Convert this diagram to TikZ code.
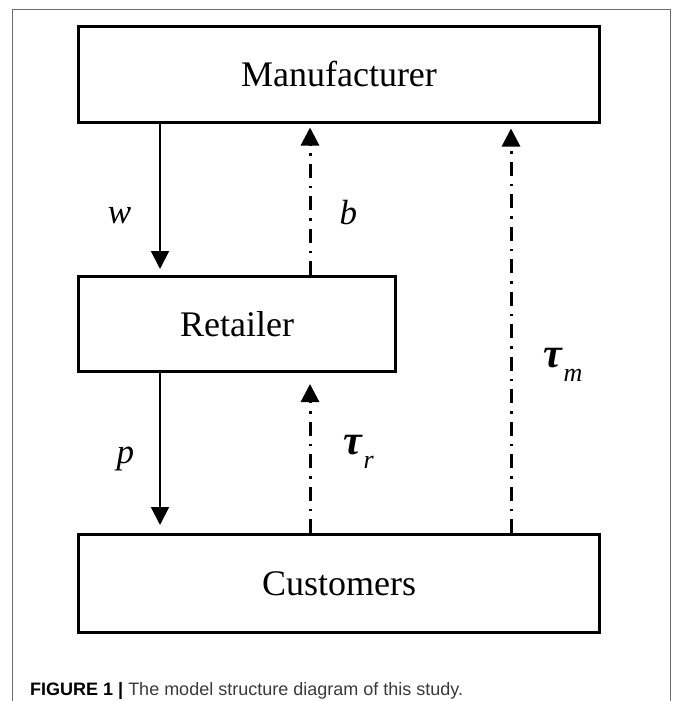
\documentclass[tikz,border=0pt]{standalone}
\usepackage{fontspec}
\setmainfont{Liberation Serif}
\newfontfamily\capfont{Liberation Sans}
\usepackage{xcolor}
\usetikzlibrary{arrows.meta}
\usetikzlibrary{calc}

\definecolor{framegray}{HTML}{6E6E6E}
\definecolor{capgray}{HTML}{3A3A3A}

\newcommand{\taulab}[1]{{\fontsize{42}{44}\selectfont\textbf{\textit{τ}}}\kern1.5pt\raisebox{-0.4em}{\fontsize{26}{28}\selectfont\textit{#1}}}

\tikzset{
  box/.style={draw, line width=3pt, inner sep=0pt, font=\fontsize{36}{40}\selectfont},
  lab/.style={inner sep=0pt, font=\fontsize{35}{38}\selectfont\itshape},
  flow/.style={line width=1.8pt, -{Triangle[width=18pt,length=18pt]}},
  back/.style={line width=3pt, dash pattern=on 14pt off 8pt on 2.5pt off 8pt, -{Triangle[width=18pt,length=18pt]}},
}

\begin{document}
\begin{tikzpicture}[x=1pt,y=-1pt] %[scale=0.8]
    \useasboundingbox (0,0) rectangle (672,701);
    \draw [framegray, line width=1pt] (12.5,701) -- (12.5,9.5) -- (670.5,9.5) -- (670.5,701);
    \node [box, minimum width=521pt, minimum height=95pt] (manu) at (339,74.5) {Manufacturer};
    \node [box, minimum width=317pt, minimum height=95pt] (ret) at (237,324) {Retailer};
    \node [box, minimum width=521pt, minimum height=98pt] (cust) at (339,583.5) {Customers};
    \coordinate (xw) at (160,0);
    \coordinate (xb) at (310,0);
    \coordinate (xm) at (511,0);
    \draw [flow, shorten >=6pt] (xw |- manu.south) -- node [lab, left=28pt, pos=0.61] {w} (xw |- ret.north);
    \draw [flow, shorten >=8pt] (xw |- ret.south) -- node [lab, left=25pt, pos=0.54] {p} (xw |- cust.north);
    \draw [back, shorten >=4pt] (xb |- ret.north) -- node [lab, right=28pt, pos=0.41] {b} (xb |- manu.south);
    \draw [back, shorten >=11pt] (xb |- cust.north) -- node [lab, right=32pt, pos=0.51] {\taulab{r}} (xb |- ret.south);
    \draw [back, shorten >=5pt] (xm |- cust.north) -- node [lab, right=31pt, pos=0.41] {\taulab{m}} (xm |- manu.south);
    \node [anchor=base west, inner sep=0pt, font=\capfont\fontsize{18}{20}\selectfont] (cap) at (30,695)
      {\textbf{FIGURE 1 |} {\color{capgray}The model structure diagram of this study.}};
\end{tikzpicture}
\end{document}
